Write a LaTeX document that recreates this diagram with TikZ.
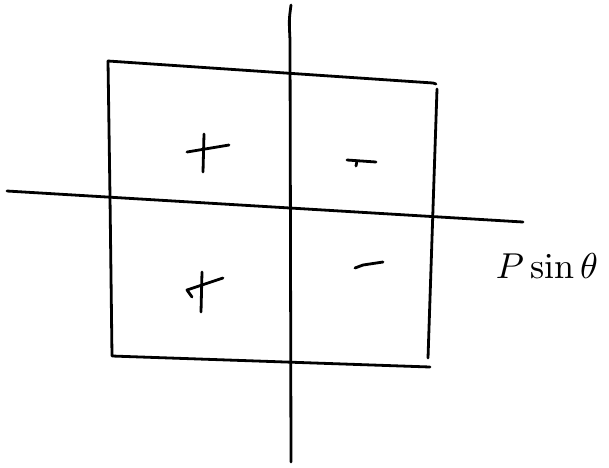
\documentclass[tikz,border=0pt]{standalone}
\begin{document}
\begin{tikzpicture}[x=1pt,y=-1pt,
  ink/.style={line width=2.8pt,line cap=round,line join=round,black},
  sign/.style={line width=2.8pt,line cap=round,line join=round,black}]
\useasboundingbox (0,0) rectangle (609,467);
% axes
\coordinate (vt) at (291,5);
\coordinate (vb) at (291,462);
\coordinate (hl) at (7,191);
\coordinate (hr) at (523,222);
\draw[ink] (vt) .. controls (289,20) .. (290,40) -- (vb);
\draw[ink] (hl) -- (hr);
% box
\coordinate (tl) at (108,61);
\coordinate (tr) at (433,83);
\coordinate (rt) at (437,89);
\coordinate (rb) at (428,358);
\coordinate (bl) at (112,356);
\coordinate (br) at (430,367);
\draw[ink] (tl) -- (tr) -- (436,84);
\draw[ink] (rt) -- (rb);
\draw[ink] (tl) -- (110,197) -- (bl) -- (br);
% signs
\draw[sign] (187,152) -- (229,145);
\draw[sign] (204,134) -- (203,172);
\draw[sign] (202,272) -- (201,312);
\draw[sign] (192,297) -- (187,290) -- (223,278);
\draw[sign] (347,160) -- (376,162);
\draw[sign] (357,161) -- (356,166);
\draw[sign] (355,268) -- (363,265) -- (383,262);
% label
\node[inner sep=0pt,scale=3.6] (lbl) at (547,266) {$P\sin\theta$};
\end{tikzpicture}
\end{document}
